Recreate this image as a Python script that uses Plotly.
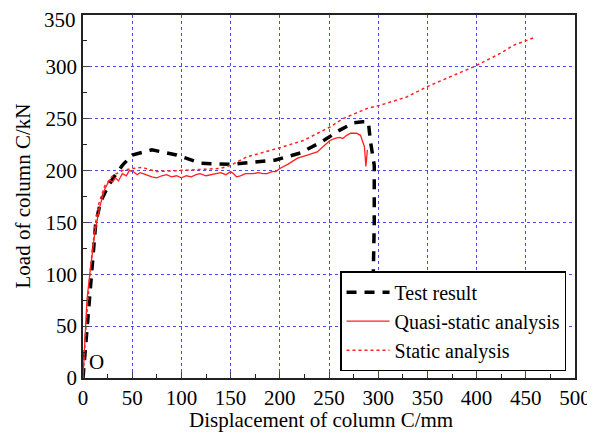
import plotly.graph_objects as go

# Test result (black dashed)
test_x = [0, 3, 6, 9, 13, 18, 24, 30, 40, 50, 70, 95, 120, 150, 195, 221, 243, 261, 275, 284, 290, 292, 296, 296, 295]
test_y = [0, 35, 75, 112, 150, 170, 182, 192, 205, 215, 220, 215, 207, 206, 210, 217, 228, 239, 246, 247, 247, 229, 205, 150, 100]

# Quasi-static analysis (red solid)
quasi_x = [0, 1.7, 4, 7, 12, 17, 22, 27, 30, 33, 36, 40, 44, 47, 51, 55, 58, 61, 66, 70, 75, 80, 85, 90, 95, 100, 105, 110, 115, 119, 125, 130, 135, 140, 145, 150, 153, 156, 160, 165, 170, 173, 178, 183, 187, 192, 196, 200, 208, 218, 228, 238, 245, 251, 256, 261, 264, 268, 272, 278, 282, 284, 286, 287.5, 289]
quasi_y = [0, 27, 75, 101, 140, 165, 182, 191, 189, 193, 190, 197, 195, 200, 199, 196, 198, 197, 195, 194, 193, 195, 196, 194, 195, 193, 195, 194, 196, 197, 195, 196, 197, 198, 196, 199, 197, 194, 195, 197, 197, 197, 198, 197, 197, 199, 199, 202, 206, 212, 215, 218, 224, 229, 231, 232, 231, 234, 236, 236, 234, 229, 223, 204, 220]

# Static analysis (red dotted)
static_x = [0, 3, 7, 12, 16, 22, 30, 40, 50, 60, 75, 100, 120, 139, 150, 166, 200, 224, 251, 264, 289, 302, 329, 350, 377, 397, 424, 438, 458]
static_y = [0, 50, 100, 145, 168, 185, 195, 200, 202, 203, 199, 200, 201, 202, 205, 213, 222, 229, 242, 250, 260, 263, 271, 281, 292, 300, 313, 321, 328]

x_ticks = [0, 50, 100, 150, 200, 250, 300, 350, 400, 450, 500]
y_ticks = [0, 50, 100, 150, 200, 250, 300, 350]

x_title = "Displacement of column C/mm"
y_title = "Load of column C/kN"

font_family = "Liberation Serif"
fs = 21

fig = go.Figure()
fig.add_trace(go.Scatter(x=test_x, y=test_y, mode="lines", name="Test result",
                         line=dict(color="black", width=3.5, dash="10px,8px")))
fig.add_trace(go.Scatter(x=quasi_x, y=quasi_y, mode="lines", name="Quasi-static analysis",
                         line=dict(color="#ff2020", width=1.3)))
fig.add_trace(go.Scatter(x=static_x, y=static_y, mode="lines", name="Static analysis",
                         line=dict(color="#ff2020", width=1.5, dash="3px,3px")))

grid_color = "#4a4aff"
fig.update_layout(
    width=587, height=426,
    margin=dict(l=75, r=20, t=7, b=56),
    paper_bgcolor="white", plot_bgcolor="white",
    font=dict(family=font_family, size=fs, color="black"),
    showlegend=True,
    legend=dict(x=0.523, y=0.018, xanchor="left", yanchor="bottom",
                bordercolor="black", borderwidth=1.2, bgcolor="white",
                font=dict(family=font_family, size=20), tracegroupgap=0,
                itemwidth=43),
    annotations=[
        dict(x=4, y=2, xref="x", yref="y", text="O", showarrow=False,
             xanchor="left", yanchor="bottom",
             font=dict(family=font_family, size=fs)),
        dict(x=0.5, y=0, xref="paper", yref="paper", text=x_title, showarrow=False,
             xanchor="center", yanchor="middle", xshift=-8, yshift=-42,
             font=dict(family=font_family, size=fs)),
        dict(x=0, y=0.5, xref="paper", yref="paper", text=y_title, showarrow=False,
             xanchor="center", yanchor="middle", xshift=-61, textangle=-90,
             font=dict(family=font_family, size=fs)),
        # top y tick label (would be clipped by plotly at the figure edge)
        dict(x=0, y=y_ticks[-1], xref="paper", yref="y", text=str(y_ticks[-1]),
             showarrow=False, xanchor="right", yanchor="top", xshift=-6, yshift=8,
             borderpad=0,
             font=dict(family=font_family, size=fs)),
    ],
)
fig.update_xaxes(range=[0, 500], tickvals=x_ticks, ticks="inside", ticklen=6,
                 showline=True, linecolor="#222", linewidth=1.5, mirror=True,
                 showgrid=True, gridcolor=grid_color, griddash="dot", gridwidth=1,
                 zeroline=False, automargin=False,
                 minor=dict(dtick=25, ticks="inside", ticklen=4, showgrid=False, tickcolor="#222"),
                 tickfont=dict(family=font_family, size=fs))
fig.update_yaxes(range=[0, 350], tickvals=y_ticks, ticks="inside", ticklen=6,
                 showline=True, linecolor="#222", linewidth=1.5, mirror=True,
                 showgrid=True, gridcolor=grid_color, griddash="dot", gridwidth=1,
                 zeroline=False, automargin=False,
                 minor=dict(dtick=25, ticks="inside", ticklen=4, showgrid=False, tickcolor="#222"),
                 tickfont=dict(family=font_family, size=fs))

fig.write_html("out.html")
